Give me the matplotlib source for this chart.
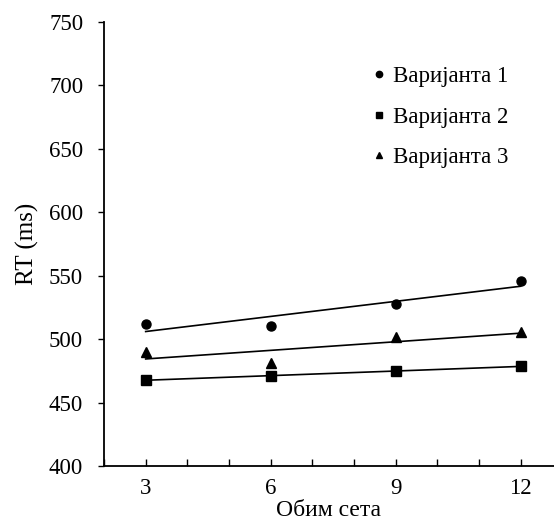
import numpy as np
import matplotlib
matplotlib.use("Agg")
import matplotlib.pyplot as plt
from matplotlib.ticker import MultipleLocator

plt.rcParams['font.family'] = ['Liberation Serif', 'DejaVu Serif']

set_sizes = [3, 6, 9, 12]
variant1 = [512, 510, 527.6, 545.8]
variant2 = [467.8, 470.9, 474.9, 478.6]
variant3 = [490, 481, 501.4, 505.8]
labels = ['Варијанта 1', 'Варијанта 2', 'Варијанта 3']
markers = ['o', 's', '^']

fig = plt.figure(figsize=(5.54, 5.21), dpi=100)
ax = fig.add_axes([104/554, 55/521, 1 - 104/554, (466-22)/521])

x = np.array(set_sizes, dtype=float)
handles = []
for ys, m, lab in zip([variant1, variant2, variant3], markers, labels):
    ys = np.array(ys)
    h, = ax.plot(x, ys, linestyle='none', marker=m, color='black',
                 markersize=6.5, label=lab, clip_on=False)
    k, b = np.polyfit(x, ys, 1)
    ax.plot(x, k * x + b, color='black', linewidth=1.2)
    handles.append(h)

ax.set_xlim(2, 12.8)
ax.set_ylim(400, 750)
ax.set_xticks(set_sizes)
ax.xaxis.set_minor_locator(MultipleLocator(1))
ax.set_yticks(np.arange(400, 751, 50))
ax.spines['top'].set_visible(False)
ax.spines['right'].set_visible(False)
ax.spines['left'].set_linewidth(1.3)
ax.spines['bottom'].set_linewidth(1.3)
ax.tick_params(axis='x', which='both', direction='in', length=5, width=1, labelsize=16.5, pad=9)
ax.tick_params(axis='y', direction='out', length=4, width=1, labelsize=16.5, pad=11)

ax.set_ylabel('RT (ms)', fontsize=18, labelpad=7)
ax.set_xlabel('Обим сета', fontsize=17, labelpad=0)

leg = ax.legend(handles=handles, labels=labels, loc='upper left',
                bbox_to_anchor=(0.553, 0.947), frameon=False, fontsize=16.5,
                handlelength=0.5, handletextpad=0.35, labelspacing=0.85,
                markerscale=0.7)

fig.savefig('out.png', dpi=100)
